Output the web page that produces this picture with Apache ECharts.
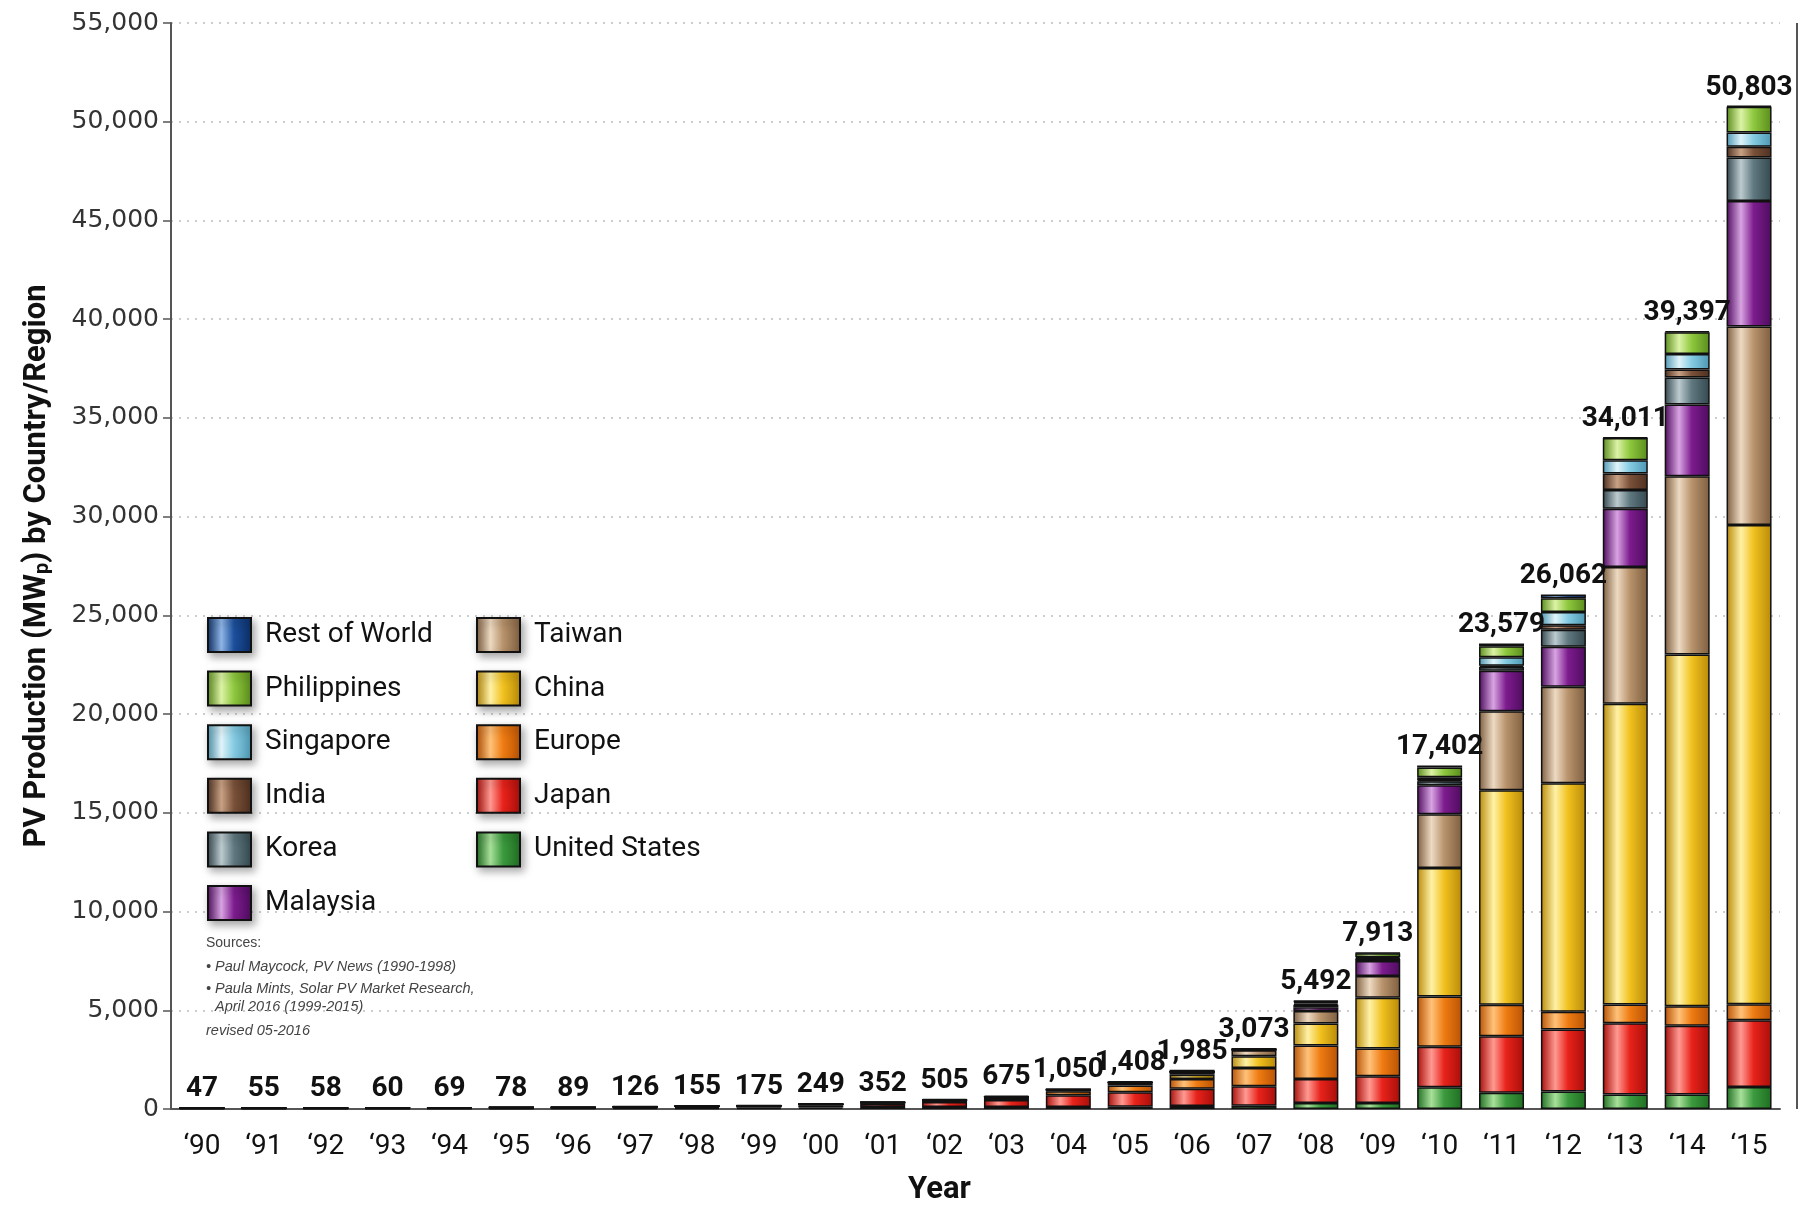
<!DOCTYPE html>
<html>
<head>
<meta charset="utf-8">
<script src="https://cdn.jsdelivr.net/npm/echarts@6/dist/echarts.min.js"></script>
<style>
  html, body { margin: 0; padding: 0; background: #fff; }
  #chart { width: 1808px; height: 1205px; }
</style>
</head>
<body>
<div id="chart"></div>
<script>
// PV production by country/region, 1990-2015 (MWp)
const years = ['\u201890', '\u201891', '\u201892', '\u201893', '\u201894', '\u201895', '\u201896', '\u201897', '\u201898', '\u201899',
  '\u201800', '\u201801', '\u201802', '\u201803', '\u201804', '\u201805', '\u201806', '\u201807', '\u201808', '\u201809',
  '\u201810', '\u201811', '\u201812', '\u201813', '\u201814', '\u201815'];

const totals = [47, 55, 58, 60, 69, 78, 89, 126, 155, 175, 249, 352, 505, 675, 1050, 1408, 1985, 3073, 5492, 7913,
  17402, 23579, 26062, 34011, 39397, 50803];

const unitedStates = [15, 17, 18, 23, 26, 35, 39, 51, 54, 60, 75, 100, 100, 100, 100, 120, 150, 170, 300, 300, 1100, 820, 880, 740, 740, 1120];
const japan = [17, 19, 19, 17, 17, 16, 21, 35, 49, 80, 120, 170, 250, 360, 600, 730, 870, 980, 1220, 1360, 2050, 2870, 3150, 3600, 3470, 3370];
const europe = [10, 13, 16, 17, 22, 20, 19, 30, 34, 30, 40, 60, 100, 140, 200, 340, 500, 930, 1690, 1400, 2550, 1590, 900, 950, 1000, 810];
const china = [0, 0, 0, 0, 0, 0, 0, 0, 0, 0, 0, 0, 0, 10, 40, 90, 220, 590, 1120, 2580, 6500, 10860, 11570, 15240, 17810, 24280];
const taiwan = [0, 0, 0, 0, 0, 0, 0, 0, 0, 0, 0, 0, 0, 15, 30, 60, 150, 300, 630, 1100, 2730, 4000, 4880, 6920, 9030, 10050];
const malaysia = [0, 0, 0, 0, 0, 0, 0, 0, 0, 0, 0, 0, 0, 0, 0, 0, 0, 0, 190, 760, 1470, 2060, 2030, 2950, 3630, 6360];
const korea = [0, 0, 0, 0, 0, 0, 0, 0, 0, 0, 0, 0, 0, 0, 0, 0, 0, 50, 130, 100, 200, 190, 860, 950, 1370, 2200];
const india = [0, 0, 0, 0, 0, 0, 0, 0, 0, 0, 0, 0, 0, 0, 0, 0, 0, 0, 60, 30, 50, 60, 230, 840, 400, 540];
const singapore = [0, 0, 0, 0, 0, 0, 0, 0, 0, 0, 0, 0, 0, 0, 0, 0, 0, 0, 70, 60, 150, 430, 670, 660, 790, 730];
const philippines = [0, 0, 0, 0, 0, 0, 0, 0, 0, 0, 0, 0, 0, 0, 0, 0, 0, 0, 40, 200, 500, 560, 700, 1130, 1100, 1300];
const restOfWorld = [5, 6, 5, 3, 4, 7, 10, 10, 18, 5, 14, 22, 55, 50, 80, 68, 95, 53, 42, 23, 102, 139, 192, 31, 57, 43];

const yTicks = [0, 5000, 10000, 15000, 20000, 25000, 30000, 35000, 40000, 45000, 50000, 55000];

// stacking order, bottom to top: [name, values, dark, light, base]
const stackOrder = [
  ['United States', unitedStates, '#1f6e22', '#a8e09a', '#3c9a3e'],
  ['Japan', japan, '#a80e0a', '#ff9a92', '#e8231b'],
  ['Europe', europe, '#b85204', '#ffc27a', '#ef7c12'],
  ['China', china, '#b88a08', '#fff1a6', '#f1c11f'],
  ['Taiwan', taiwan, '#7e5e40', '#eddac2', '#b8936c'],
  ['Malaysia', malaysia, '#4e0c5e', '#d8a4e2', '#7d1c8e'],
  ['Korea', korea, '#34484f', '#bccbcf', '#607880'],
  ['India', india, '#4e3020', '#c9a285', '#7a5139'],
  ['Singapore', singapore, '#4e97b2', '#e0f4fa', '#84cbe2'],
  ['Philippines', philippines, '#5a8c1c', '#dcf3a6', '#8ec83e'],
  ['Rest of World', restOfWorld, '#0c2e66', '#8fb6e6', '#1c4f9c']
];

const narrow = "Roboto, 'Liberation Sans', sans-serif";

function cylinder(dark, light, base) {
  return new echarts.graphic.LinearGradient(0, 0, 1, 0, [
    { offset: 0, color: dark },
    { offset: 0.32, color: light },
    { offset: 0.6, color: base },
    { offset: 1, color: dark }
  ]);
}

const series = stackOrder.map(function (s, i) {
  const isTop = i === stackOrder.length - 1;
  return {
    name: s[0],
    type: 'bar',
    stack: 'pv',
    barWidth: 45,
    data: s[1],
    itemStyle: {
      color: cylinder(s[2], s[3], s[4]),
      borderColor: '#111',
      borderWidth: 1.5
    },
    label: isTop ? {
      show: true,
      position: 'top',
      distance: 4,
      fontFamily: narrow,
      fontWeight: 'bold',
      fontSize: 28,
      color: '#111',
      formatter: function (p) { return totals[p.dataIndex].toLocaleString('en-US'); }
    } : { show: false }
  };
});

const legendBase = {
  orient: 'vertical',
  top: 612,
  icon: 'rect',
  itemWidth: 43,
  itemHeight: 34,
  itemGap: 17.6,
  itemStyle: { shadowBlur: 8, shadowColor: 'rgba(0,0,0,0.35)', shadowOffsetX: 3, shadowOffsetY: 4 },
  textStyle: { fontFamily: narrow, fontSize: 28, lineHeight: 34, color: '#111', padding: [0, 0, 0, 9] }
};

const srcFont = 'italic 14.5px "Liberation Sans", Arial, sans-serif';

const chart = echarts.init(document.getElementById('chart'));
chart.setOption({
  animation: false,
  backgroundColor: '#fff',
  grid: { left: 171, right: 28, top: 23, bottom: 96, outerBoundsMode: 'none' },
  legend: [
    Object.assign({}, legendBase, { left: 202, data: ['Rest of World', 'Philippines', 'Singapore', 'India', 'Korea', 'Malaysia'] }),
    Object.assign({}, legendBase, { left: 471, data: ['Taiwan', 'China', 'Europe', 'Japan', 'United States'] })
  ],
  xAxis: {
    type: 'category',
    data: years,
    name: 'Year',
    nameLocation: 'middle',
    nameGap: 66,
    nameTextStyle: { fontFamily: narrow, fontWeight: 'bold', fontSize: 31, color: '#111', padding: [0, 72, 0, 0] },
    axisLine: { lineStyle: { color: '#555', width: 2 } },
    axisTick: { alignWithLabel: true, length: 10, lineStyle: { color: '#555', width: 1.5 } },
    axisLabel: { fontFamily: narrow, fontSize: 28, color: '#111', margin: 24 }
  },
  yAxis: {
    type: 'value',
    min: yTicks[0],
    max: yTicks[yTicks.length - 1],
    interval: yTicks[1] - yTicks[0],
    name: '{a|PV Production (MW}{s|p}{a|) by Country/Region}',
    nameLocation: 'middle',
    nameGap: 118,
    nameRotate: 90,
    nameTextStyle: {
      rich: {
        a: { fontFamily: narrow, fontWeight: 'bold', fontSize: 31, color: '#111' },
        s: { fontFamily: narrow, fontWeight: 'bold', fontSize: 20, color: '#111', padding: [12, 0, 0, 0] }
      }
    },
    axisLine: { show: true, lineStyle: { color: '#555', width: 2 } },
    axisTick: { show: true, length: 8, lineStyle: { color: '#555', width: 1.5 } },
    axisLabel: {
      fontFamily: "'DejaVu Sans', Verdana, sans-serif",
      fontSize: 25,
      color: '#333',
      margin: 12,
      formatter: function (v) { return v.toLocaleString('en-US'); }
    },
    splitLine: { show: true, lineStyle: { color: '#bdbdbd', width: 1.5, type: [2, 6] } }
  },
  graphic: [
    { type: 'line', shape: { x1: 1797, y1: 23, x2: 1797, y2: 1109 }, style: { stroke: '#555', lineWidth: 2 } },
    { type: 'text', left: 206, top: 936, style: { text: 'Sources:', font: '14px "Liberation Sans", Arial, sans-serif', fill: '#444' } },
    { type: 'text', left: 206, top: 959, style: { text: '\u2022 Paul Maycock, PV News (1990-1998)', font: srcFont, fill: '#444' } },
    { type: 'text', left: 206, top: 981, style: { text: '\u2022 Paula Mints, Solar PV Market Research,', font: srcFont, fill: '#444' } },
    { type: 'text', left: 215, top: 999, style: { text: 'April 2016 (1999-2015)', font: srcFont, fill: '#444' } },
    { type: 'text', left: 206, top: 1023, style: { text: 'revised 05-2016', font: srcFont, fill: '#444' } }
  ],
  series: series
});
</script>
</body>
</html>
